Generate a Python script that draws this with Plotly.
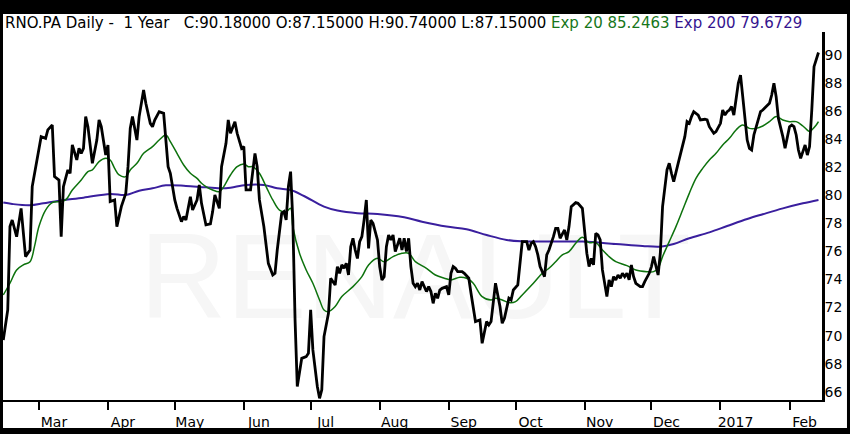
# RNO.PA daily close with 20 and 200 period exponential averages

import plotly.graph_objs as go

close_dates = [
    '2016-02-14', '2016-02-16', '2016-02-17', '2016-02-18', '2016-02-20', '2016-02-22', '2016-02-24', '2016-02-26',
    '2016-02-27', '2016-02-29', '2016-03-02', '2016-03-04', '2016-03-05', '2016-03-07', '2016-03-08', '2016-03-10',
    '2016-03-11', '2016-03-12', '2016-03-14', '2016-03-15', '2016-03-16', '2016-03-18', '2016-03-19', '2016-03-20',
    '2016-03-21', '2016-03-22', '2016-03-23', '2016-03-25', '2016-03-27', '2016-03-28', '2016-03-29', '2016-03-31',
    '2016-04-01', '2016-04-02', '2016-04-04', '2016-04-05', '2016-04-07', '2016-04-09', '2016-04-10', '2016-04-11',
    '2016-04-12', '2016-04-14', '2016-04-15', '2016-04-17', '2016-04-18', '2016-04-20', '2016-04-21', '2016-04-22',
    '2016-04-24', '2016-04-26', '2016-04-28', '2016-04-29', '2016-05-01', '2016-05-02', '2016-05-04', '2016-05-05',
    '2016-05-06', '2016-05-08', '2016-05-09', '2016-05-11', '2016-05-12', '2016-05-13', '2016-05-15', '2016-05-17',
    '2016-05-18', '2016-05-19', '2016-05-21', '2016-05-22', '2016-05-24', '2016-05-25', '2016-05-26', '2016-05-28',
    '2016-05-29', '2016-05-31', '2016-06-01', '2016-06-02', '2016-06-04', '2016-06-06', '2016-06-07', '2016-06-08',
    '2016-06-10', '2016-06-12', '2016-06-14', '2016-06-15', '2016-06-16', '2016-06-18', '2016-06-19', '2016-06-20',
    '2016-06-21', '2016-06-22', '2016-06-23', '2016-06-24', '2016-06-25', '2016-06-27', '2016-06-29', '2016-06-30',
    '2016-07-01', '2016-07-02', '2016-07-04', '2016-07-05', '2016-07-06', '2016-07-07', '2016-07-09', '2016-07-10',
    '2016-07-12', '2016-07-13', '2016-07-14', '2016-07-15', '2016-07-16', '2016-07-17', '2016-07-18', '2016-07-19',
    '2016-07-20', '2016-07-21', '2016-07-22', '2016-07-23', '2016-07-24', '2016-07-25', '2016-07-26', '2016-07-27',
    '2016-07-28', '2016-07-29', '2016-07-31', '2016-08-01', '2016-08-02', '2016-08-03', '2016-08-04', '2016-08-05',
    '2016-08-06', '2016-08-07', '2016-08-08', '2016-08-10', '2016-08-11', '2016-08-12', '2016-08-13', '2016-08-14',
    '2016-08-15', '2016-08-16', '2016-08-17', '2016-08-18', '2016-08-19', '2016-08-20', '2016-08-22', '2016-08-23',
    '2016-08-24', '2016-08-25', '2016-08-26', '2016-08-27', '2016-08-28', '2016-08-29', '2016-08-31', '2016-09-01',
    '2016-09-02', '2016-09-03', '2016-09-04', '2016-09-05', '2016-09-07', '2016-09-08', '2016-09-10', '2016-09-11',
    '2016-09-12', '2016-09-13', '2016-09-15', '2016-09-16', '2016-09-18', '2016-09-19', '2016-09-20', '2016-09-21',
    '2016-09-22', '2016-09-24', '2016-09-25', '2016-09-26', '2016-09-27', '2016-09-28', '2016-09-29', '2016-09-30',
    '2016-10-02', '2016-10-03', '2016-10-04', '2016-10-06', '2016-10-07', '2016-10-08', '2016-10-09', '2016-10-10',
    '2016-10-11', '2016-10-12', '2016-10-14', '2016-10-15', '2016-10-16', '2016-10-18', '2016-10-19', '2016-10-20',
    '2016-10-21', '2016-10-23', '2016-10-24', '2016-10-25', '2016-10-26', '2016-10-28', '2016-10-29', '2016-10-31',
    '2016-11-01', '2016-11-02', '2016-11-03', '2016-11-04', '2016-11-05', '2016-11-06', '2016-11-07', '2016-11-08',
    '2016-11-09', '2016-11-11', '2016-11-12', '2016-11-13', '2016-11-14', '2016-11-15', '2016-11-16', '2016-11-17',
    '2016-11-18', '2016-11-19', '2016-11-20', '2016-11-21', '2016-11-22', '2016-11-23', '2016-11-24', '2016-11-26',
    '2016-11-27', '2016-11-28', '2016-11-30', '2016-12-01', '2016-12-02', '2016-12-03', '2016-12-04', '2016-12-05',
    '2016-12-06', '2016-12-08', '2016-12-09', '2016-12-10', '2016-12-11', '2016-12-13', '2016-12-14', '2016-12-16',
    '2016-12-17', '2016-12-18', '2016-12-19', '2016-12-20', '2016-12-22', '2016-12-23', '2016-12-25', '2016-12-26',
    '2016-12-27', '2016-12-29', '2016-12-30', '2017-01-01', '2017-01-02', '2017-01-03', '2017-01-04', '2017-01-05',
    '2017-01-06', '2017-01-07', '2017-01-09', '2017-01-10', '2017-01-11', '2017-01-13', '2017-01-14', '2017-01-15',
    '2017-01-16', '2017-01-17', '2017-01-19', '2017-01-20', '2017-01-22', '2017-01-23', '2017-01-24', '2017-01-25',
    '2017-01-26', '2017-01-27', '2017-01-29', '2017-01-30', '2017-02-01', '2017-02-02', '2017-02-03', '2017-02-04',
    '2017-02-05', '2017-02-06', '2017-02-07', '2017-02-08', '2017-02-09', '2017-02-10', '2017-02-11', '2017-02-12',
    '2017-02-14',
]
close = [
    69.69, 71.83, 77.77, 78.24, 77.05, 79.07, 75.63, 76.10, 80.62, 82.52, 84.18, 84.06, 84.66, 85.01, 81.33, 81.09,
    77.05, 80.62, 81.81, 81.57, 83.59, 82.52, 83.35, 82.99, 83.35, 85.61, 84.89, 82.28, 83.94, 85.37, 84.89, 82.87,
    83.59, 79.55, 79.67, 77.77, 79.19, 80.14, 82.04, 84.77, 85.61, 83.94, 85.61, 87.51, 86.56, 85.13, 84.89, 85.37,
    85.96, 85.84, 82.04, 81.57, 79.67, 79.07, 78.12, 78.48, 78.24, 79.90, 78.95, 79.67, 80.74, 79.43, 77.89, 77.96,
    78.84, 80.02, 79.07, 82.04, 83.71, 85.37, 84.42, 85.25, 84.42, 83.35, 83.47, 80.38, 80.38, 82.99, 82.04, 79.67,
    77.77, 75.15, 74.32, 74.44, 76.10, 78.72, 78.84, 78.24, 80.62, 81.69, 78.24, 71.12, 66.37, 68.38, 68.50, 68.74,
    71.83, 68.98, 66.37, 65.53, 66.13, 69.93, 71.59, 74.09, 73.61, 74.92, 74.44, 75.04, 74.80, 75.15, 74.32, 76.34,
    76.94, 76.10, 75.50, 76.69, 77.05, 78.24, 79.67, 76.22, 78.24, 78.00, 76.82, 74.92, 73.97, 74.20, 76.34, 77.17,
    76.82, 77.17, 75.99, 76.94, 76.10, 76.94, 75.99, 76.94, 74.92, 73.73, 73.49, 73.73, 73.25, 73.85, 73.14, 73.49,
    73.14, 72.30, 73.02, 72.66, 73.25, 73.37, 73.49, 72.90, 74.44, 74.92, 74.80, 74.56, 74.56, 74.44, 74.09, 73.02,
    72.07, 71.00, 71.12, 69.45, 71.00, 70.76, 71.00, 72.30, 73.73, 72.07, 70.88, 71.24, 72.07, 72.66, 72.54, 73.25,
    73.61, 75.39, 76.70, 76.70, 76.10, 76.58, 76.70, 76.34, 75.75, 74.92, 74.20, 75.75, 76.10, 77.05, 77.65, 77.65,
    76.94, 77.53, 76.82, 77.77, 79.19, 79.48, 79.43, 79.07, 77.29, 75.87, 74.92, 75.51, 75.04, 77.29, 77.17, 76.82,
    74.68, 72.78, 73.97, 73.49, 74.20, 73.97, 74.32, 74.09, 74.44, 74.20, 74.44, 73.97, 75.04, 74.20, 73.73, 73.49,
    73.49, 73.85, 74.44, 74.92, 75.63, 75.04, 74.32, 75.87, 79.19, 81.81, 82.28, 81.57, 80.97, 82.28, 82.99, 84.18,
    85.25, 85.13, 85.61, 85.96, 85.72, 85.37, 85.42, 85.37, 84.89, 84.42, 84.54, 85.13, 86.08, 85.72, 85.96, 86.08,
    86.32, 85.72, 87.98, 88.57, 87.03, 83.94, 83.35, 83.23, 84.30, 84.89, 85.96, 86.08, 86.37, 86.56, 87.15, 87.98,
    87.03, 85.49, 84.18, 83.35, 84.89, 85.01, 84.89, 84.30, 83.23, 82.64, 83.11, 83.59, 82.87, 83.47, 86.08, 89.17,
    90.18,
]

exp20_dates = [
    '2016-02-14', '2016-02-17', '2016-02-20', '2016-02-23', '2016-02-26', '2016-02-28', '2016-03-01', '2016-03-04',
    '2016-03-07', '2016-03-10', '2016-03-13', '2016-03-16', '2016-03-20', '2016-03-23', '2016-03-25', '2016-03-28',
    '2016-03-31', '2016-04-02', '2016-04-04', '2016-04-06', '2016-04-09', '2016-04-11', '2016-04-14', '2016-04-17',
    '2016-04-21', '2016-04-24', '2016-04-27', '2016-04-29', '2016-05-02', '2016-05-05', '2016-05-08', '2016-05-11',
    '2016-05-13', '2016-05-15', '2016-05-18', '2016-05-21', '2016-05-23', '2016-05-26', '2016-05-29', '2016-06-01',
    '2016-06-03', '2016-06-05', '2016-06-08', '2016-06-11', '2016-06-14', '2016-06-17', '2016-06-20', '2016-06-22',
    '2016-06-23', '2016-06-26', '2016-06-29', '2016-07-02', '2016-07-05', '2016-07-07', '2016-07-09', '2016-07-12',
    '2016-07-15', '2016-07-20', '2016-07-24', '2016-07-27', '2016-07-31', '2016-08-03', '2016-08-07', '2016-08-11',
    '2016-08-14', '2016-08-17', '2016-08-22', '2016-08-26', '2016-08-30', '2016-09-02', '2016-09-06', '2016-09-09',
    '2016-09-12', '2016-09-16', '2016-09-20', '2016-09-22', '2016-09-25', '2016-09-28', '2016-10-01', '2016-10-04',
    '2016-10-09', '2016-10-13', '2016-10-16', '2016-10-19', '2016-10-22', '2016-10-25', '2016-10-28', '2016-10-31',
    '2016-11-03', '2016-11-06', '2016-11-09', '2016-11-12', '2016-11-15', '2016-11-20', '2016-11-24', '2016-11-29',
    '2016-12-02', '2016-12-04', '2016-12-06', '2016-12-09', '2016-12-12', '2016-12-15', '2016-12-18', '2016-12-21',
    '2016-12-24', '2016-12-27', '2016-12-30', '2017-01-02', '2017-01-05', '2017-01-08', '2017-01-11', '2017-01-14',
    '2017-01-17', '2017-01-20', '2017-01-23', '2017-01-26', '2017-01-29', '2017-02-01', '2017-02-04', '2017-02-07',
    '2017-02-10', '2017-02-11', '2017-02-13', '2017-02-14',
]
exp20 = [
    72.90, 73.73, 74.68, 75.04, 75.27, 76.34, 77.77, 78.95, 79.48, 79.55, 79.67, 80.38, 81.09, 81.69, 81.81, 82.40,
    82.64, 82.52, 81.92, 81.45, 81.33, 81.81, 82.28, 82.99, 83.47, 83.94, 84.30, 83.82, 82.99, 82.16, 81.57, 81.21,
    80.86, 80.62, 80.38, 80.26, 80.62, 81.45, 82.04, 82.23, 82.04, 82.04, 81.57, 80.62, 79.67, 78.95, 78.84, 79.07,
    77.77, 75.87, 74.68, 73.73, 72.54, 71.83, 71.71, 72.07, 72.78, 73.49, 74.20, 75.04, 75.51, 75.27, 75.63, 75.87,
    75.87, 75.27, 74.80, 74.32, 74.09, 73.97, 74.16, 74.09, 73.73, 72.78, 72.54, 72.66, 72.54, 72.35, 72.42, 72.90,
    73.73, 74.44, 74.80, 75.27, 75.75, 75.99, 76.58, 77.01, 76.63, 76.63, 76.10, 75.63, 75.27, 74.99, 74.68, 74.56,
    74.56, 74.80, 75.63, 76.70, 77.77, 78.95, 80.14, 81.21, 81.92, 82.52, 82.99, 83.59, 84.06, 84.66, 85.01, 84.77,
    84.77, 84.94, 85.25, 85.61, 85.37, 85.25, 85.25, 84.94, 84.54, 84.66, 85.01, 85.2463,
]

exp200_dates = [
    '2016-02-14', '2016-02-18', '2016-02-26', '2016-03-03', '2016-03-10', '2016-03-21', '2016-04-02', '2016-04-09',
    '2016-04-15', '2016-04-21', '2016-04-27', '2016-05-06', '2016-05-15', '2016-05-24', '2016-06-02', '2016-06-10',
    '2016-06-16', '2016-06-22', '2016-06-28', '2016-07-07', '2016-07-13', '2016-07-22', '2016-07-31', '2016-08-12',
    '2016-08-20', '2016-08-31', '2016-09-09', '2016-09-18', '2016-09-27', '2016-10-04', '2016-10-13', '2016-10-31',
    '2016-11-15', '2016-11-27', '2016-12-05', '2016-12-11', '2016-12-18', '2016-12-27', '2017-01-04', '2017-01-13',
    '2017-01-20', '2017-01-29', '2017-02-07', '2017-02-14',
]
exp200 = [
    79.48, 79.38, 79.29, 79.43, 79.62, 79.83, 80.10, 80.02, 80.33, 80.50, 80.71, 80.67, 80.57, 80.50, 80.74, 80.74,
    80.50, 80.38, 79.95, 79.19, 78.91, 78.72, 78.67, 78.43, 78.12, 77.77, 77.58, 77.17, 76.82, 76.72, 76.70, 76.70,
    76.53, 76.39, 76.34, 76.53, 76.94, 77.36, 77.81, 78.31, 78.65, 79.07, 79.43, 79.6729,
]

month_ticks = ['2016-03-01', '2016-04-01', '2016-05-01', '2016-06-01', '2016-07-01', '2016-08-01',
               '2016-09-01', '2016-10-01', '2016-11-01', '2016-12-01', '2017-01-01', '2017-02-01']
month_labels = ['Mar', 'Apr', 'May', 'Jun', 'Jul', 'Aug', 'Sep', 'Oct', 'Nov', 'Dec', '2017', 'Feb']
price_ticks = list(range(66, 92, 2))

header = ('RNO.PA Daily -\u00a0\u00a01 Year\u00a0\u00a0\u00a0C:90.18000 O:87.15000 H:90.74000 L:87.15000 '
          '<span style="color:#17761a">Exp 20 85.2463</span> '
          '<span style="color:#35158f">Exp 200 79.6729</span>')

font = 'DejaVu Sans'

data = [
    # faint watermark, drawn first so the lines go over it
    go.Scatter(x=['2016-08-17'], y=[73.4], mode='text', text=['RENAULT'], hoverinfo='skip',
               textfont=dict(family='Liberation Sans', size=120, color='#f6f6f6')),
    go.Scatter(x=exp200_dates, y=exp200, mode='lines', line=dict(color='#3a1f9e', width=2, shape='spline')),
    go.Scatter(x=exp20_dates, y=exp20, mode='lines', line=dict(color='#0d720d', width=1.5, shape='spline')),
    go.Scatter(x=close_dates, y=close, mode='lines', line=dict(color='black', width=2.8)),
]

layout = go.Layout(
    width=850, height=434, autosize=False,
    margin=dict(l=3, r=28, t=32, b=34, pad=0),
    paper_bgcolor='black',
    plot_bgcolor='white',
    showlegend=False,
    font=dict(family=font, size=14, color='black'),
    xaxis=dict(
        type='date', range=['2016-02-13 21:00', '2017-02-15 14:00'],
        showgrid=False, zeroline=False,
        showline=True, linecolor='black', linewidth=2,
        ticks='outside', ticklen=8, tickwidth=2, tickcolor='black',
        tickvals=month_ticks, ticktext=month_labels,
        ticklabelshift=15, ticklabelstandoff=0,
    ),
    yaxis=dict(
        side='right', range=[65.41, 91.64],
        showgrid=False, zeroline=False,
        showline=True, linecolor='black', linewidth=2.5,
        ticks='', tickvals=price_ticks, ticklabelstandoff=-3,
    ),
    # white page inside the black frame
    shapes=[dict(type='rect', xref='paper', yref='paper', x0=0, x1=1.0305, y0=-0.0761, y1=1.0489,
                 fillcolor='white', line=dict(width=0), layer='below')],
    annotations=[
        dict(text=header, xref='paper', yref='paper', x=0, y=1.0245, xanchor='left', yanchor='middle',
             showarrow=False, font=dict(family=font, size=15, color='black')),
    ],
)

fig = go.Figure(data=data, layout=layout)
fig.write_html('out.html', config={'displayModeBar': False},
               post_script="document.body.style.margin='0';")
